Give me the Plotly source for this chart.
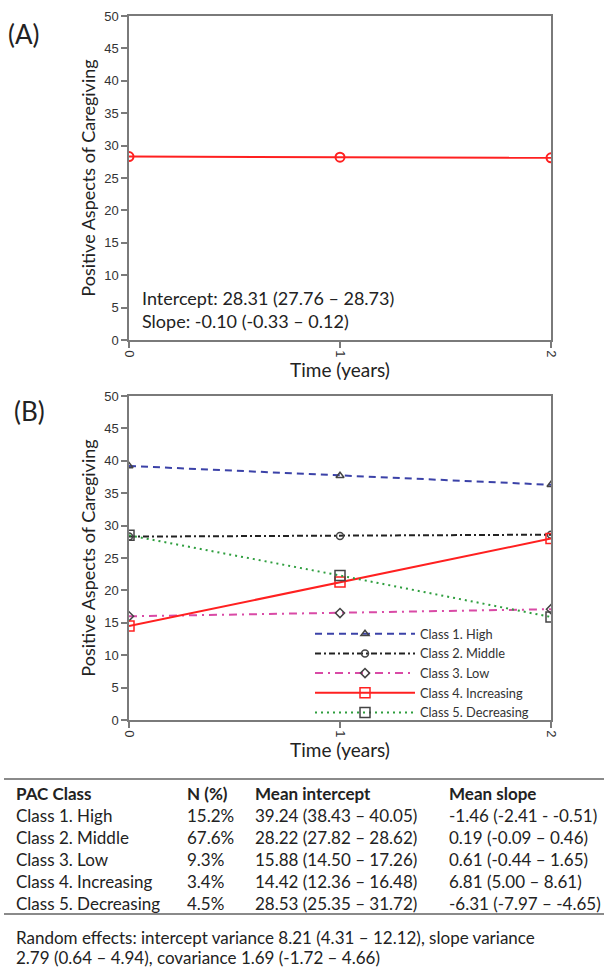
import plotly.graph_objects as go

W, H = 604, 972

# ---------------- data ----------------
time_years = [0, 1, 2]
overall_pac = [28.31, 28.21, 28.11]

class_names = ["Class 1. High", "Class 2. Middle", "Class 3. Low",
               "Class 4. Increasing", "Class 5. Decreasing"]
class1_high = [39.2, 37.7, 36.3]
class2_middle = [28.3, 28.4, 28.6]
class3_low = [16.0, 16.5, 17.1]
class4_increasing = [14.5, 21.3, 28.0]
class5_decreasing = [28.5, 22.3, 15.9]

y_ticks = [0, 5, 10, 15, 20, 25, 30, 35, 40, 45, 50]

table_header = ["PAC Class", "N (%)", "Mean intercept", "Mean slope"]
table_class = class_names
table_n = ["15.2%", "67.6%", "9.3%", "3.4%", "4.5%"]
table_intercept = ["39.24 (38.43 – 40.05)", "28.22 (27.82 – 28.62)", "15.88 (14.50 – 17.26)",
                   "14.42 (12.36 – 16.48)", "28.53 (25.35 – 31.72)"]
table_slope = ["-1.46 (-2.41 - -0.51)", "0.19 (-0.09 – 0.46)", "0.61 (-0.44 – 1.65)",
               "6.81 (5.00 – 8.61)", "-6.31 (-7.97 – -4.65)"]
random_effects = ["Random effects: intercept variance 8.21 (4.31 – 12.12), slope variance",
                  "2.79 (0.64 – 4.94), covariance 1.69 (-1.72 – 4.66)"]
intercept_note = ["Intercept: 28.31 (27.76 – 28.73)", "Slope: -0.10 (-0.33 – 0.12)"]

# ---------------- helpers ----------------
def px_x(x):
    return x / W

def px_y(y):
    return 1 - y / H

TXT = "Lato, 'Open Sans', sans-serif"
NUM = "Arial, 'Liberation Sans', sans-serif"
AX = "#7a7a7a"
MK = "#444444"
TC = "#222222"

fig = go.Figure()

# Panel A
fig.add_trace(go.Scatter(
    x=time_years, y=overall_pac, mode="lines+markers", showlegend=False,
    line=dict(color="#ff2020", width=2),
    marker=dict(symbol="circle-open", size=9, color="#ff2020", line=dict(width=2)),
    xaxis="x", yaxis="y"))

# Panel B
series = [
    (class1_high, "#3b42a8", "7px,5px", "triangle-up-open", 7, MK),
    (class2_middle, "#222222", "6px,3px,2px,3px", "circle-open", 7, MK),
    (class3_low, "#d94aa6", "8px,5px,2px,5px", "diamond-open", 7, MK),
    (class4_increasing, "#ff2020", "solid", "square-open", 10, "#ff2020"),
    (class5_decreasing, "#2e9e3e", "2px,4px", "square-open", 10, MK),
]
for name, (vals, col, dash, sym, sz, mcol) in zip(class_names, series):
    fig.add_trace(go.Scatter(
        x=time_years, y=vals, mode="lines+markers", name=name,
        line=dict(color=col, width=2, dash=dash),
        marker=dict(symbol=sym, size=sz, color=mcol, line=dict(width=1.5, color=mcol)),
        xaxis="x2", yaxis="y2"))

xdom = [px_x(129), px_x(551)]
common_x = dict(range=[0, 2], tickvals=time_years, ticks="outside", ticklen=6, tickwidth=1.5,
                tickcolor=AX, showline=True, linecolor=AX, linewidth=1.5, mirror=True,
                showgrid=False, zeroline=False, tickangle=90,
                tickfont=dict(family=NUM, size=13, color="#333333"), domain=xdom,
                title=dict(text="Time (years)", font=dict(family=TXT, size=19, color=TC),
                           standoff=2))
common_y = dict(range=[0, 50], tickvals=y_ticks, ticks="outside", ticklen=6, tickwidth=1.5,
                tickcolor=AX, showline=True, linecolor=AX, linewidth=1.5, mirror=True,
                showgrid=False, zeroline=False,
                tickfont=dict(family=NUM, size=13, color="#333333"),
                title=dict(text="Positive Aspects of Caregiving",
                           font=dict(family=TXT, size=18, color=TC), standoff=4))

fig.update_layout(
    width=W, height=H, margin=dict(l=0, r=0, t=0, b=0, autoexpand=False),
    paper_bgcolor="white", plot_bgcolor="white",
    xaxis=dict(common_x, anchor="y"),
    yaxis=dict(common_y, anchor="x", domain=[px_y(340), px_y(16)]),
    xaxis2=dict(common_x, anchor="y2"),
    yaxis2=dict(common_y, anchor="x2", domain=[px_y(720), px_y(396)]),
    legend=dict(x=px_x(310), y=px_y(619), xanchor="left", yanchor="top",
                bgcolor="rgba(0,0,0,0)", itemwidth=100, tracegroupgap=0,
                font=dict(family=TXT, size=12.8, color="#333333")),
)

annotations = []
# panel labels
annotations.append(dict(text="(A)", x=px_x(6), y=px_y(34), xref="paper", yref="paper",
                        xanchor="left", yanchor="middle", showarrow=False,
                        font=dict(family=TXT, size=26, color=TC)))
annotations.append(dict(text="(B)", x=px_x(12), y=px_y(411), xref="paper", yref="paper",
                        xanchor="left", yanchor="middle", showarrow=False,
                        font=dict(family=TXT, size=26, color=TC)))
# intercept/slope note
for txt, yy in zip(intercept_note, [298, 321]):
    annotations.append(dict(text=txt, x=px_x(140), y=px_y(yy), xref="paper", yref="paper",
                            xanchor="left", yanchor="middle", showarrow=False,
                            font=dict(family=TXT, size=18, color=TC)))

# table
col_x = [14, 185, 253, 447]
for cx, htxt in zip(col_x, table_header):
    annotations.append(dict(text="<b>" + htxt + "</b>", x=px_x(cx), y=px_y(793), xref="paper",
                            yref="paper", xanchor="left", yanchor="middle", showarrow=False,
                            font=dict(family=TXT, size=17, color=TC)))
row_y = [815, 837, 859, 881, 903]
for i, ry in enumerate(row_y):
    for cx, col in zip(col_x, [table_class, table_n, table_intercept, table_slope]):
        annotations.append(dict(text=col[i], x=px_x(cx), y=px_y(ry), xref="paper",
                                yref="paper", xanchor="left", yanchor="middle", showarrow=False,
                                font=dict(family=TXT, size=17, color=TC)))
for txt, yy in zip(random_effects, [937, 957]):
    annotations.append(dict(text=txt, x=px_x(14), y=px_y(yy), xref="paper", yref="paper",
                            xanchor="left", yanchor="middle", showarrow=False,
                            font=dict(family=TXT, size=17, color=TC)))
fig.update_layout(annotations=annotations)

shapes = []
for ly in [779, 914]:
    shapes.append(dict(type="line", xref="paper", yref="paper", x0=px_x(4), x1=1,
                       y0=px_y(ly), y1=px_y(ly), line=dict(color="#8a8a8a", width=2)))
fig.update_layout(shapes=shapes)

fig.write_html("out.html", config={"displayModeBar": False},
               post_script="document.body.style.margin='0';document.body.style.overflow='hidden';")
